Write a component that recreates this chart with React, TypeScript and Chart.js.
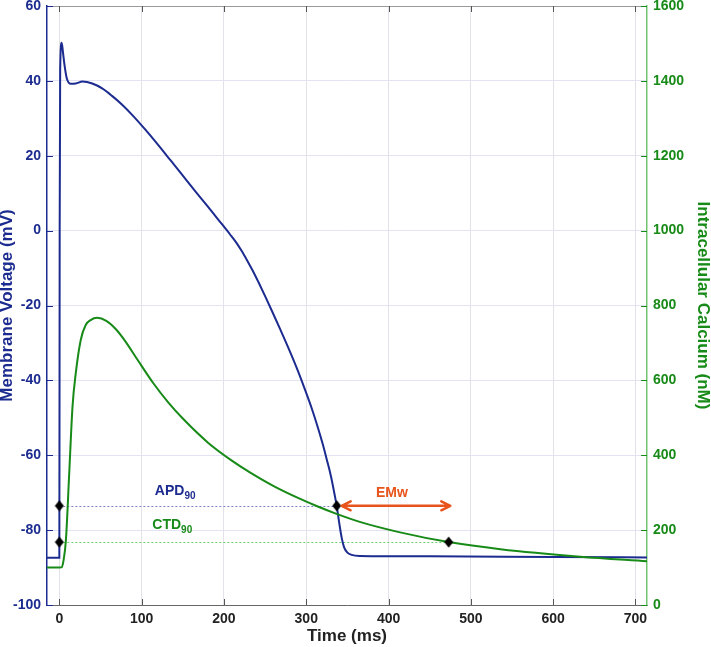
import React, { useEffect, useRef } from "react";
import { Chart, registerables } from "chart.js";

Chart.register(...registerables);

// Membrane voltage (mV) vs time (ms)
const voltTime = [-15, 0, 0.4, 1.0, 2.8, 4.5, 6, 9, 14, 20, 28, 40, 52, 64, 76, 89, 104, 120, 135, 151, 166, 181, 194, 207, 215, 222, 229, 235, 242, 250, 259, 268, 278, 289, 298, 307, 314, 320, 325, 330, 334, 337, 340, 343, 346, 350, 355, 365, 450, 600, 714];
const voltage = [-87.4, -87.4, 0, 43, 50.2, 47.5, 44.7, 40.7, 39.2, 39.3, 39.8, 39.3, 38.0, 36.0, 33.7, 30.8, 27.1, 22.9, 18.8, 14.4, 10.3, 6.3, 2.7, -0.9, -3.2, -5.6, -8.3, -10.7, -13.8, -17.5, -21.8, -26.2, -31.2, -37.0, -42.2, -47.7, -52.5, -57.0, -61.2, -65.6, -70.0, -73.5, -78.0, -82.0, -84.6, -86.0, -86.6, -86.9, -87.0, -87.2, -87.3];

// Intracellular calcium (nM) vs time (ms)
const caTime = [-15, 3, 5, 8, 12, 16, 20, 26, 32, 38, 46, 57, 69, 80, 95, 114, 132, 150, 181, 210, 231, 261, 292, 314, 336, 365, 414, 473, 536, 633, 714];
const calcium = [100, 101, 118, 174, 352, 530, 620, 708, 748, 761, 767, 759, 736, 705, 655, 593, 542, 498, 433, 385, 355, 317, 284, 263, 244, 222, 194, 168, 149, 129, 117];

// Markers / annotations
const STIM_TIME = 0;
const APD90_TIME = 337;
const APD90_VOLT = -73.5;
const CTD90_TIME = 473;
const CTD90_CA = 168;
const EMW_START = 343;
const EMW_END = 475;

const FONT = '"Liberation Sans", Arial, Helvetica, sans-serif';
const BLUE = "#1c2b8f";
const GREEN = "#178a17";
const ORANGE = "#e8541c";

const fitScale = (w?: number, h?: number) => (s: any) => {
  if (w !== undefined) s.width = w;
  if (h !== undefined) s.height = h;
  s.paddingTop = 0;
  s.paddingBottom = 0;
  s.paddingLeft = 0;
  s.paddingRight = 0;
};

const overlay = {
  id: "overlay",
  beforeDatasetsDraw(chart: any) {
    const { ctx, scales } = chart;
    const x = scales.x, y = scales.y, y2 = scales.y2;
    ctx.save();
    ctx.lineWidth = 1;
    ctx.setLineDash([2, 2]);
    ctx.strokeStyle = "#7f82c6";
    const ya = Math.round(y.getPixelForValue(APD90_VOLT)) + 0.5;
    ctx.beginPath();
    ctx.moveTo(x.getPixelForValue(STIM_TIME), ya);
    ctx.lineTo(x.getPixelForValue(APD90_TIME), ya);
    ctx.stroke();
    ctx.strokeStyle = "#6fcf6f";
    const yc = Math.round(y2.getPixelForValue(CTD90_CA)) + 0.5;
    ctx.beginPath();
    ctx.moveTo(x.getPixelForValue(STIM_TIME), yc);
    ctx.lineTo(x.getPixelForValue(CTD90_TIME), yc);
    ctx.stroke();
    ctx.restore();
  },
  afterDraw(chart: any) {
    const { ctx, chartArea: a, scales } = chart;
    const x = scales.x, y = scales.y, y2 = scales.y2;
    ctx.save();
    ctx.setLineDash([]);
    // top border
    ctx.lineWidth = 1;
    ctx.strokeStyle = "#9a9a9a";
    ctx.beginPath();
    ctx.moveTo(a.left, a.top + 0.5);
    ctx.lineTo(a.right, a.top + 0.5);
    ctx.stroke();
    // inward ticks
    const T = 6;
    ctx.strokeStyle = "#555";
    x.ticks.forEach((t: any) => {
      const px = Math.round(x.getPixelForValue(t.value)) + 0.5;
      ctx.beginPath();
      ctx.moveTo(px, a.bottom);
      ctx.lineTo(px, a.bottom - T);
      ctx.moveTo(px, a.top);
      ctx.lineTo(px, a.top + T);
      ctx.stroke();
    });
    ctx.strokeStyle = BLUE;
    y.ticks.forEach((t: any) => {
      const py = Math.round(y.getPixelForValue(t.value)) + 0.5;
      ctx.beginPath();
      ctx.moveTo(a.left, py);
      ctx.lineTo(a.left + T, py);
      ctx.stroke();
    });
    ctx.strokeStyle = GREEN;
    y2.ticks.forEach((t: any) => {
      const py = Math.round(y2.getPixelForValue(t.value)) + 0.5;
      ctx.beginPath();
      ctx.moveTo(a.right, py);
      ctx.lineTo(a.right - T, py);
      ctx.stroke();
    });
    // EMw double arrow
    const ay = y.getPixelForValue(APD90_VOLT);
    const x1 = x.getPixelForValue(EMW_START);
    const x2 = x.getPixelForValue(EMW_END);
    ctx.strokeStyle = ORANGE;
    ctx.lineWidth = 2.5;
    ctx.lineCap = "round";
    ctx.lineJoin = "round";
    ctx.beginPath();
    ctx.moveTo(x1, ay);
    ctx.lineTo(x2, ay);
    ctx.moveTo(x1 + 9, ay - 4.5);
    ctx.lineTo(x1, ay);
    ctx.lineTo(x1 + 9, ay + 4.5);
    ctx.moveTo(x2 - 9, ay - 4.5);
    ctx.lineTo(x2, ay);
    ctx.lineTo(x2 - 9, ay + 4.5);
    ctx.stroke();
    // labels
    ctx.textBaseline = "alphabetic";
    ctx.textAlign = "center";
    ctx.font = `bold 14px ${FONT}`;
    ctx.fillStyle = ORANGE;
    ctx.fillText("EMw", (x1 + x2) / 2 - 4, ay - 9);
    const sub = (main: string, s: string, px: number, py: number, color: string) => {
      ctx.textAlign = "left";
      ctx.fillStyle = color;
      ctx.font = `bold 14px ${FONT}`;
      ctx.fillText(main, px, py);
      const w = ctx.measureText(main).width;
      ctx.font = `bold 10px ${FONT}`;
      ctx.fillText(s, px + w, py + 4);
    };
    sub("APD", "90", x.getPixelForValue(116), y.getPixelForValue(-70.6), BLUE);
    sub("CTD", "90", x.getPixelForValue(113), y.getPixelForValue(-79.7), GREEN);
    ctx.restore();
  },
};

export default function App() {
  const ref = useRef<HTMLCanvasElement | null>(null);
  useEffect(() => {
    if (!ref.current) return;
    const diamond = document.createElement("canvas");
    diamond.width = 10;
    diamond.height = 12;
    const dctx = diamond.getContext("2d")!;
    dctx.fillStyle = "#000";
    dctx.beginPath();
    dctx.moveTo(5, 0.5);
    dctx.lineTo(9.5, 6);
    dctx.lineTo(5, 11.5);
    dctx.lineTo(0.5, 6);
    dctx.closePath();
    dctx.fill();

    const chart = new Chart(ref.current, {
      type: "line",
      data: {
        datasets: [
          {
            label: "APD90 markers",
            data: [
              { x: STIM_TIME, y: APD90_VOLT },
              { x: APD90_TIME, y: APD90_VOLT },
            ],
            yAxisID: "y",
            showLine: false,
            pointStyle: diamond as any,
            pointRadius: 5,
            order: 0,
          },
          {
            label: "CTD90 markers",
            data: [
              { x: STIM_TIME, y: CTD90_CA },
              { x: CTD90_TIME, y: CTD90_CA },
            ],
            yAxisID: "y2",
            showLine: false,
            pointStyle: diamond as any,
            pointRadius: 5,
            order: 0,
          },
          {
            label: "Intracellular Calcium",
            data: caTime.map((t, i) => ({ x: t, y: calcium[i] })),
            yAxisID: "y2",
            borderColor: GREEN,
            borderWidth: 2,
            pointRadius: 0,
            cubicInterpolationMode: "monotone",
            order: 1,
          },
          {
            label: "Membrane Voltage",
            data: voltTime.map((t, i) => ({ x: t, y: voltage[i] })),
            yAxisID: "y",
            borderColor: BLUE,
            borderWidth: 2,
            pointRadius: 0,
            cubicInterpolationMode: "monotone",
            order: 2,
          },
        ],
      },
      options: {
        responsive: false,
        animation: false,
        layout: { padding: { top: 6, left: 0, right: 0, bottom: 0 } },
        plugins: {
          legend: { display: false },
          tooltip: { enabled: false },
        },
        scales: {
          x: {
            type: "linear",
            min: -15,
            max: 714,
            afterFit: fitScale(undefined, 42),
            ticks: {
              stepSize: 100,
              includeBounds: false,
              padding: 6,
              color: "#222",
              font: { family: FONT, size: 14, weight: "bold" },
              callback: (v: any) => String(v),
            },
            grid: { color: "#e2e2e8", drawTicks: false },
            border: { color: "#666", width: 1 },
            title: {
              display: true,
              text: "Time (ms)",
              color: "#222",
              font: { family: FONT, size: 17, weight: "bold", lineHeight: 1 },
              padding: { top: 0, bottom: 2 },
            },
          },
          y: {
            type: "linear",
            position: "left",
            min: -100,
            max: 60,
            afterFit: fitScale(47),
            ticks: {
              stepSize: 20,
              padding: 6,
              color: BLUE,
              font: { family: FONT, size: 14, weight: "bold" },
              callback: (v: any) => String(v),
            },
            grid: { color: "#e3e3f3", drawTicks: false },
            border: { color: BLUE, width: 1.5 },
            title: {
              display: true,
              text: "Membrane Voltage (mV)",
              color: BLUE,
              font: { family: FONT, size: 17, weight: "bold", lineHeight: 1 },
              padding: { top: -1, bottom: 0 },
            },
          },
          y2: {
            type: "linear",
            position: "right",
            min: 0,
            max: 1600,
            afterFit: fitScale(64),
            ticks: {
              stepSize: 200,
              padding: 6,
              color: GREEN,
              font: { family: FONT, size: 14, weight: "bold" },
              callback: (v: any) => String(v),
            },
            grid: { display: false, drawTicks: false },
            border: { color: "#72c472", width: 1.5 },
            title: {
              display: true,
              text: "Intracellular Calcium (nM)",
              color: GREEN,
              font: { family: FONT, size: 17, weight: "bold", lineHeight: 1 },
              padding: { top: 0, bottom: 0 },
            },
          },
        },
      } as any,
      plugins: [overlay],
    });
    return () => chart.destroy();
  }, []);

  return (
    <div style={{ position: "fixed", left: 0, top: 0, width: 711, height: 647, background: "#fff" }}>
      <canvas ref={ref} width={711} height={647} style={{ display: "block" }} />
    </div>
  );
}
